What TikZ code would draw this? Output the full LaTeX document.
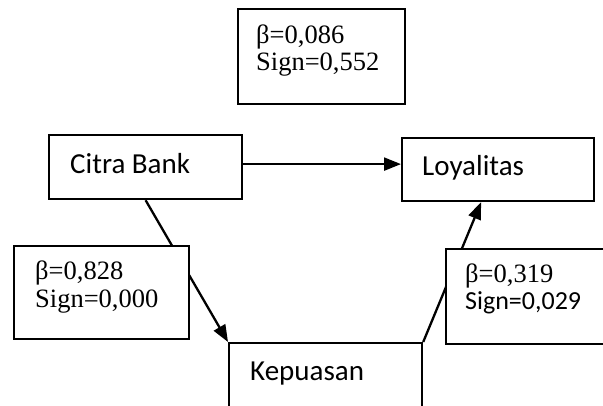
\documentclass[tikz,border=0pt]{standalone}
\usepackage{fontspec}
\setmainfont{Liberation Serif}
\newfontfamily\calfont{Carlito}
\usetikzlibrary{arrows.meta}
\begin{document}
\begin{tikzpicture}[x=1pt,y=1pt,
  box/.style={draw=black, line width=2.2pt, fill=white, rectangle, inner sep=0pt, anchor=north west},
  lbl/.style={inner sep=0pt, anchor=west, font=\calfont\fontsize{29}{32}\selectfont},
  ser/.style={inner sep=0pt, anchor=west, font=\fontsize{26.5}{30}\selectfont},
  calsm/.style={inner sep=0pt, anchor=west, font=\calfont\fontsize{26}{30}\selectfont},
  arr/.style={line width=2.3pt, -{Triangle[length=17pt,width=13pt]}}]
\useasboundingbox (0,0) rectangle (603,-405);
\clip (0,0) rectangle (603,-405);
\fill[white] (0,0) rectangle (603,-405);
% main boxes
\node[box, minimum width=193pt, minimum height=64pt] (citra) at (48,-134) {};
\node[lbl] (citraT) at (70,-164) {Citra Bank};
\node[box, minimum width=192pt, minimum height=63pt] (loyal) at (401,-137) {};
\node[lbl] (loyalT) at (422,-168) {Loyalitas};
\node[box, minimum width=193pt, minimum height=90pt] (kep) at (228,-342) {};
\node[lbl] (kepT) at (250,-374) {Kepuasan};
% arrows
\draw[arr] ([yshift=3pt]citra.east) -- ([yshift=3pt]citra.east -| loyal.west);
\draw[arr] (citra.south) -- (kep.north west);
\draw[arr] (kep.north east) -- ([xshift=-17pt]loyal.south);
% coefficient boxes
\node[box, minimum width=167pt, minimum height=95pt] (b1) at (237,-8) {};
\node[ser] (b1a) at (256,-37) {β=0,086};
\node[ser] (b1b) at (256,-65) {Sign=0,552};
\node[box, minimum width=175pt, minimum height=93pt] (b2) at (13,-245) {};
\node[ser] (b2a) at (35,-273) {β=0,828};
\node[ser] (b2b) at (35,-302) {Sign=0,000};
\node[box, minimum width=175pt, minimum height=95pt] (b3) at (445,-248) {};
\node[ser] (b3a) at (465,-276) {β=0,319};
\node[calsm] (b3b) at (465,-303) {Sign=0,029};
\end{tikzpicture}
\end{document}
